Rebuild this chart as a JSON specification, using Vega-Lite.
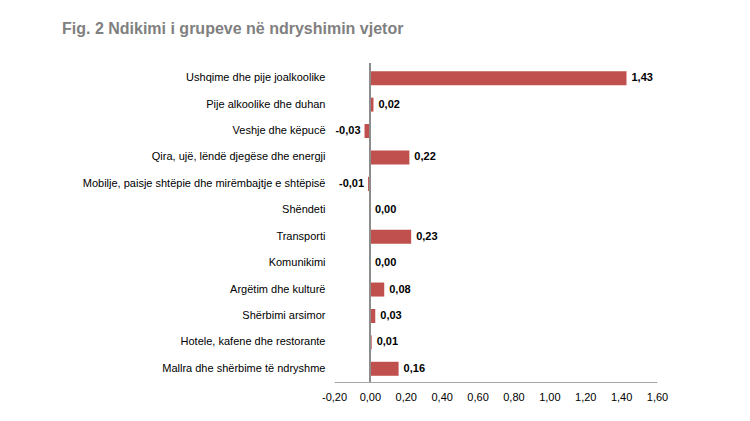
{
  "$schema": "https://vega.github.io/schema/vega-lite/v6.json",
  "width": 323,
  "height": 317,
  "autosize": {"type": "none"},
  "padding": {"left": 334, "top": 65, "right": 93, "bottom": 39},
  "background": "white",
  "config": {
    "locale": {"number": {"decimal": ",", "thousands": ".", "grouping": [3], "currency": ["", " €"], "minus": "-"}},
    "view": {"stroke": null},
    "font": "Liberation Sans",
    "axis": {"labelOverlap": false},
    "axisX": {"labelOverlap": false, "labelFlush": false}
  },
  "title": {
    "text": "Fig. 2 Ndikimi i grupeve në ndryshimin vjetor",
    "anchor": "start",
    "frame": "group",
    "dx": -272,
    "offset": 26,
    "fontSize": 16,
    "fontWeight": "bold",
    "color": "#808080",
    "font": "Liberation Sans"
  },
  "data": {
    "values": [
      {"grupi": "Ushqime dhe pije joalkoolike", "v": 1.43},
      {"grupi": "Pije alkoolike dhe duhan", "v": 0.02},
      {"grupi": "Veshje dhe këpucë", "v": -0.03},
      {"grupi": "Qira, ujë, lëndë djegëse dhe energji", "v": 0.22},
      {"grupi": "Mobilje, paisje shtëpie dhe mirëmbajtje e shtëpisë", "v": -0.01},
      {"grupi": "Shëndeti", "v": 0.0},
      {"grupi": "Transporti", "v": 0.23},
      {"grupi": "Komunikimi", "v": 0.0},
      {"grupi": "Argëtim dhe kulturë", "v": 0.08},
      {"grupi": "Shërbimi arsimor", "v": 0.03},
      {"grupi": "Hotele, kafene dhe restorante", "v": 0.01},
      {"grupi": "Mallra dhe shërbime të ndryshme", "v": 0.16}
    ]
  },
  "encoding": {
    "y": {
      "field": "grupi",
      "type": "nominal",
      "sort": null,
      "scale": {"paddingInner": 0.47, "paddingOuter": 0.235},
      "axis": {
        "title": null,
        "domain": false,
        "ticks": false,
        "labelPadding": 9,
        "labelFontSize": 11,
        "labelColor": "#000000",
        "labelFont": "Liberation Sans",
        "labelLimit": 400
      }
    },
    "x": {
      "field": "v",
      "type": "quantitative",
      "scale": {"domain": [-0.2, 1.6], "nice": false, "zero": false},
      "axis": {
        "title": null,
        "values": [-0.2, 0, 0.2, 0.4, 0.6, 0.8, 1.0, 1.2, 1.4, 1.6],
        "format": ".2f",
        "grid": false,
        "ticks": false,
        "domainColor": "#a6a6a6",
        "labelPadding": 9,
        "labelFontSize": 11,
        "labelColor": "#000000",
        "labelFont": "Liberation Sans",
        "labelFlush": false,
        "labelOverlap": false
      }
    }
  },
  "layer": [
    {
      "mark": {"type": "bar", "color": "#C0504D"},
      "encoding": {
        "x2": {"datum": 0}
      }
    },
    {
      "mark": {"type": "rule", "color": "#8c8c8c", "strokeWidth": 1},
      "encoding": {"x": {"datum": 0, "type": "quantitative"}, "y": {"value": -2}, "y2": {"value": 317}}
    },
    {
      "transform": [{"filter": "datum.v >= 0"}],
      "mark": {"type": "text", "align": "left", "dx": 5, "fontWeight": "bold", "fontSize": 11, "color": "#000000"},
      "encoding": {
        "text": {"field": "v", "type": "quantitative", "format": ".2f"}
      }
    },
    {
      "transform": [{"filter": "datum.v < 0"}],
      "mark": {"type": "text", "align": "right", "dx": -4, "fontWeight": "bold", "fontSize": 11, "color": "#000000"},
      "encoding": {
        "text": {"field": "v", "type": "quantitative", "format": ".2f"}
      }
    }
  ]
}
